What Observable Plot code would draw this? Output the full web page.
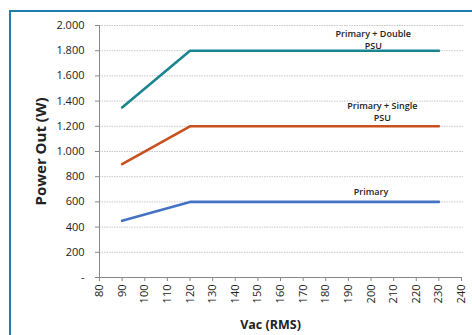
<!DOCTYPE html>
<html>
<head>
<meta charset="utf-8">
<script src="https://cdn.jsdelivr.net/npm/d3@7"></script>
<script src="https://cdn.jsdelivr.net/npm/@observablehq/plot@0.6"></script>
<style>
  html, body { margin: 0; padding: 0; background: #fff; }
  #wrap { position: relative; width: 472px; height: 335px; overflow: hidden; }
  #frame { position: absolute; left: 9px; top: 10px; width: 600px; height: 400px; border-left: 2px solid #1c7db0; border-top: 2px solid #1c7db0; pointer-events: none; }
  #chart { position: absolute; left: 0; top: 0; }
</style>
</head>
<body>
<div id="wrap"><div id="frame"></div><div id="chart"></div></div>
<script>
const vac = [90, 120, 230];
const primary = [450, 600, 600];
const primarySingle = [900, 1200, 1200];
const primaryDouble = [1350, 1800, 1800];
const seriesNames = ["Primary", "Primary + Single PSU", "Primary + Double PSU"];
const seriesColors = ["#4472c4", "#c8501e", "#1c8491"];
const labelLines = [["Primary"], ["Primary + Single", "PSU"], ["Primary + Double", "PSU"]];
const labelX = [200, 205, 201];
const labelY = [683, 1317, 1889];
const xTicks = d3.range(80, 241, 10);
const yTicks = d3.range(0, 2001, 200);

const allValues = [primary, primarySingle, primaryDouble];
const rows = [];
allValues.forEach((vals, i) => vals.forEach((v, j) => rows.push({series: seriesNames[i], x: vac[j], y: v})));
const labels = labelLines.map((l, i) => ({text: l.join("\n"), x: labelX[i], y: labelY[i]}));

const fmtY = d => d === 0 ? "-" : d3.format(",")(d).replace(/,/g, ".");

const plot = Plot.plot({
  width: 472,
  height: 335,
  marginLeft: 99,
  marginRight: 11,
  marginTop: 25,
  marginBottom: 58,
  style: {fontFamily: "'Open Sans', sans-serif", fontSize: "11px", color: "#222", background: "transparent"},
  x: {domain: [80, 240], ticks: xTicks, label: null},
  y: {domain: [0, 2000], ticks: yTicks, label: null},
  color: {domain: seriesNames, range: seriesColors},
  marks: [
    Plot.gridY(yTicks.filter(d => d > 0), {stroke: "#999", strokeOpacity: 0.55, strokeDasharray: "1.5,1", x1: 80, x2: 241}),
    Plot.axisY({ticks: yTicks, tickFormat: fmtY, tickSize: 4, tickPadding: 11, stroke: "#888",
      label: "Power Out (W)", labelAnchor: "center", labelArrow: "none", labelOffset: 64}),
    Plot.axisX({ticks: xTicks, tickRotate: -90, tickSize: 4, tickPadding: 3, stroke: "#888",
      label: "Vac (RMS)", labelAnchor: "center", labelArrow: "none", labelOffset: 51}),
    Plot.ruleY([0], {stroke: "#888"}),
    Plot.ruleX([80], {stroke: "#888"}),
    Plot.line(rows, {x: "x", y: "y", z: "series", stroke: "series", strokeWidth: 2.6}),
    Plot.text(labels, {x: "x", y: "y", text: "text", fontSize: 9, fontWeight: 600, fill: "#222", lineHeight: 1.3})
  ]
});
plot.querySelectorAll("[aria-label='y-axis label'] text, [aria-label='x-axis label'] text").forEach(t => {
  t.setAttribute("font-weight", "bold");
});
const yl = plot.querySelector("[aria-label='y-axis label']");
if (yl) yl.setAttribute("font-size", "15px");
const xl = plot.querySelector("[aria-label='x-axis label']");
if (xl) {
  xl.setAttribute("font-size", "12.5px");
  const t = xl.querySelector("text");
  if (t) t.setAttribute("dx", "-10");
}
document.getElementById("chart").appendChild(plot);
</script>
</body>
</html>
